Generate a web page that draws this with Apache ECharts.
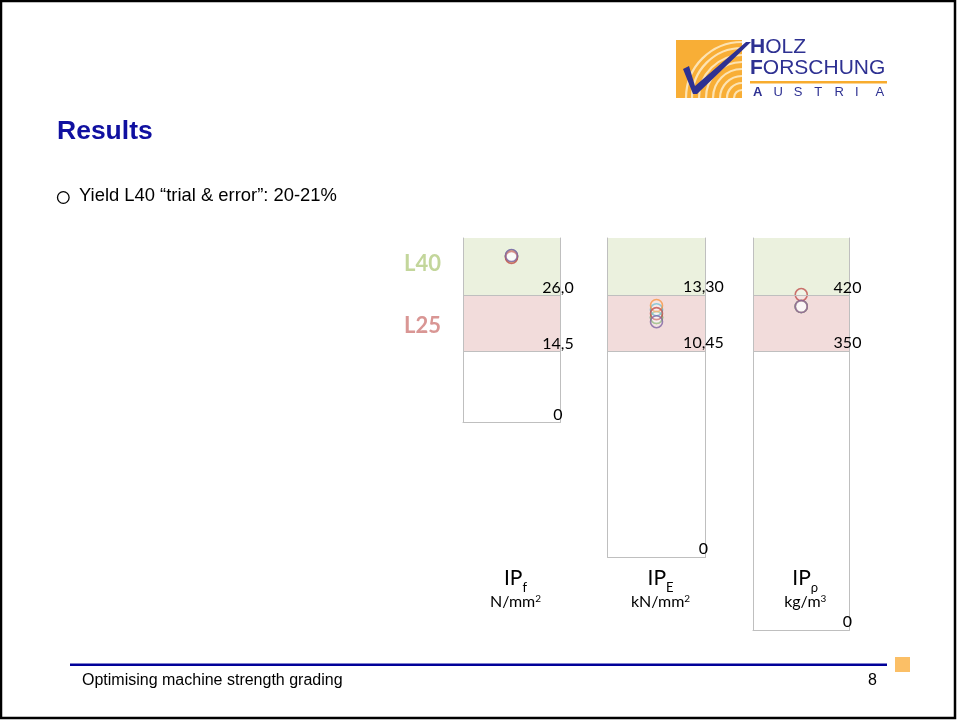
<!DOCTYPE html>
<html>
<head>
<meta charset="UTF-8">
<title>Results</title>
<script src="https://cdn.jsdelivr.net/npm/echarts@6/dist/echarts.min.js"></script>
<style>
  body{margin:0;background:#fff}
  #chart{width:957px;height:720px}
</style>
</head>
<body>
<div id="chart"></div>
<script>
// one circle per setting, in three indicating properties
var settingColors = ['#4f81bd', '#9bbb59', '#4bacc6', '#f79646', '#c0504d', '#8064a2'];
var ipF   = [34.1, 34.0, 34.1, 34.0, 33.8, 34.2];
var ipE   = [12.16, 12.16, 12.56, 12.77, 12.36, 11.95];
var ipRho = [406, 406, 406, 406, 421, 406];

var panelSub   = ['f', 'E', 'ρ'];
var panelUnit  = ['N/mm', 'kN/mm', 'kg/m'];
var panelPower = ['2', '2', '3'];
var gradeL25   = [14.5, 10.45, 350];   // lower limit L25
var gradeL40   = [26.0, 13.30, 420];   // lower limit L40
var axisTop    = [37.8, 16.2, 492];
var decimals   = [1, 2, 0];

var panelValues = [ipF, ipE, ipRho];

// layout of the three boxes
var boxLeft   = [463, 607.5, 753];
var boxWidth  = [97, 98, 96.5];
var boxBottom = [422.5, 557, 630];
var boxTop    = 238;

var myChart = echarts.init(document.getElementById('chart'));

var calibri = 'Lato, "Open Sans", sans-serif';
var arial = '"Liberation Sans", Arial, sans-serif';
var grey = '#bfbfbf';

function fmt(v, d){
    if (v === 0) return '0';
    return v.toFixed(d).replace('.', ',');
}

var grids = [], xAxes = [], yAxes = [], series = [];
panelValues.forEach(function(vals, i){
    grids.push({left: boxLeft[i], top: boxTop, width: boxWidth[i], height: boxBottom[i] - boxTop});
    xAxes.push({
        type: 'category', gridIndex: i, data: ['p'], z: 10,
        axisLine: {lineStyle: {color: grey, width: 1}},
        axisTick: {show: false}, axisLabel: {show: false}
    });
    // left edge of the box
    yAxes.push({
        type: 'value', gridIndex: i, position: 'left', min: 0, max: axisTop[i], z: 10,
        axisLine: {show: true, lineStyle: {color: grey, width: 1}},
        axisTick: {show: false}, axisLabel: {show: false}, splitLine: {show: false}
    });
    // right edge with the grade limits
    yAxes.push({
        type: 'value', gridIndex: i, position: 'right', min: 0, max: axisTop[i], z: 10,
        axisLine: {show: true, lineStyle: {color: grey, width: 1}},
        axisTick: {show: false}, splitLine: {show: false},
        axisLabel: {
            customValues: [0, gradeL25[i], gradeL40[i]],
            margin: -2, align: 'center', verticalAlign: 'bottom',
            color: '#000', fontFamily: calibri, fontSize: 16,
            formatter: function(v){ return fmt(v, decimals[i]); }
        }
    });
    series.push({
        type: 'scatter', xAxisIndex: i, yAxisIndex: 2 * i + 1,
        symbol: 'circle', symbolSize: 12, silent: true,
        data: vals.map(function(v, k){
            return {value: ['p', v], itemStyle: {color: 'rgba(255,255,255,0.3)', borderColor: settingColors[k], borderWidth: 1.6}};
        }),
        markArea: {
            silent: true,
            data: [
                [{yAxis: gradeL25[i], itemStyle: {color: '#f2dcdb'}}, {yAxis: gradeL40[i]}],
                [{yAxis: gradeL40[i], itemStyle: {color: '#ebf1de'}}, {yAxis: axisTop[i]}]
            ]
        },
        markLine: {
            silent: true, symbol: 'none', label: {show: false},
            lineStyle: {color: grey, type: 'solid', width: 1},
            data: [{yAxis: gradeL25[i]}, {yAxis: gradeL40[i]}]
        }
    });
});

// names under the boxes
var nameLabels = [];
panelSub.forEach(function(s, i){
    var cx = boxLeft[i] + boxWidth[i] / 2 + 4;
    nameLabels.push({
        type: 'text', x: cx, y: 568,
        style: {
            text: '{a|IP}{b|' + s + '}', align: 'center', verticalAlign: 'top',
            rich: {
                a: {fontFamily: calibri, fontSize: 21, lineHeight: 26, verticalAlign: 'top', fill: '#000'},
                b: {fontFamily: calibri, fontSize: 13, lineHeight: 13, padding: [13, 0, 0, 0], verticalAlign: 'top', fill: '#000'}
            }
        }
    });
    nameLabels.push({
        type: 'text', x: cx, y: 594,
        style: {
            text: '{u|' + panelUnit[i] + '}{p|' + panelPower[i] + '}', align: 'center', verticalAlign: 'top',
            rich: {
                u: {fontFamily: calibri, fontSize: 16, lineHeight: 20, verticalAlign: 'top', fill: '#000'},
                p: {fontFamily: calibri, fontSize: 10, lineHeight: 8, padding: [0, 0, 12, 0], verticalAlign: 'top', fill: '#000'}
            }
        }
    });
});

// logo
var logo = [
    {type: 'rect', shape: {x: 676, y: 40, width: 66, height: 58}, style: {fill: '#f8ae36'}}
];
[8, 15, 22, 29, 36, 43, 50, 56].forEach(function(r){
    logo.push({type: 'arc', shape: {cx: 742, cy: 98, r: r, startAngle: Math.PI, endAngle: Math.PI * 1.5},
        style: {stroke: '#fde3b2', lineWidth: 2.2, fill: null}});
});
logo.push({type: 'polygon', shape: {points: [[683, 69], [689, 66], [695, 86], [746, 42], [751, 42], [697, 94], [693, 94]]},
    style: {fill: '#2e3192'}});
logo.push({type: 'text', x: 750, y: 37, style: {
    text: '{b|H}{r|OLZ}', rich: {
        b: {fontFamily: arial, fontSize: 21, fontWeight: 'bold', fill: '#2e3192'},
        r: {fontFamily: arial, fontSize: 21, fill: '#2e3192'}
    }}});
logo.push({type: 'text', x: 750, y: 58, style: {
    text: '{b|F}{r|ORSCHUNG}', rich: {
        b: {fontFamily: arial, fontSize: 21, fontWeight: 'bold', fill: '#2e3192'},
        r: {fontFamily: arial, fontSize: 21, fill: '#2e3192'}
    }}});
logo.push({type: 'rect', shape: {x: 750, y: 81, width: 137, height: 2.5}, style: {fill: '#f8ac2e'}});
'AUSTRIA'.split('').forEach(function(c, k){
    logo.push({type: 'text', x: 753 + k * 20.4, y: 86, style: {
        text: c, fontFamily: arial, fontSize: 13, fontWeight: k === 0 ? 'bold' : 'normal', fill: '#2e3192'}});
});

var option = {
    animation: false,
    grid: grids,
    xAxis: xAxes,
    yAxis: yAxes,
    series: series,
    graphic: [
        // slide frame
        {type: 'rect', shape: {x: 1, y: 1, width: 954, height: 717}, style: {fill: null, stroke: '#000', lineWidth: 2.5}},
        {type: 'text', x: 57, y: 118, style: {text: 'Results', fontFamily: arial, fontSize: 26.5, fontWeight: 'bold', fill: '#1010a0'}},
        {type: 'circle', shape: {cx: 63.3, cy: 197.5, r: 5.8}, style: {fill: null, stroke: '#000', lineWidth: 1.3}},
        {type: 'text', x: 79, y: 187, style: {text: 'Yield L40 “trial & error”: 20-21%', fontFamily: arial, fontSize: 18.4, fill: '#000'}},
        {type: 'text', x: 404, y: 253, style: {text: 'L40', fontFamily: calibri, fontSize: 22, fontWeight: 'bold', fill: '#c3d69b'}},
        {type: 'text', x: 404, y: 315, style: {text: 'L25', fontFamily: calibri, fontSize: 22, fontWeight: 'bold', fill: '#d99694'}},
        // footer
        {type: 'rect', shape: {x: 70, y: 663.5, width: 817, height: 2.5}, style: {fill: '#000099'}},
        {type: 'rect', shape: {x: 895, y: 657, width: 15, height: 15}, style: {fill: '#fbbf66'}},
        {type: 'text', x: 82, y: 673, style: {text: 'Optimising machine strength grading', fontFamily: arial, fontSize: 16, fill: '#000'}},
        {type: 'text', x: 868, y: 673, style: {text: '8', fontFamily: arial, fontSize: 16, fill: '#000'}}
    ].concat(nameLabels).concat(logo)
};
myChart.setOption(option, true);
window.onresize = myChart.resize;
</script>
</body>
</html>
